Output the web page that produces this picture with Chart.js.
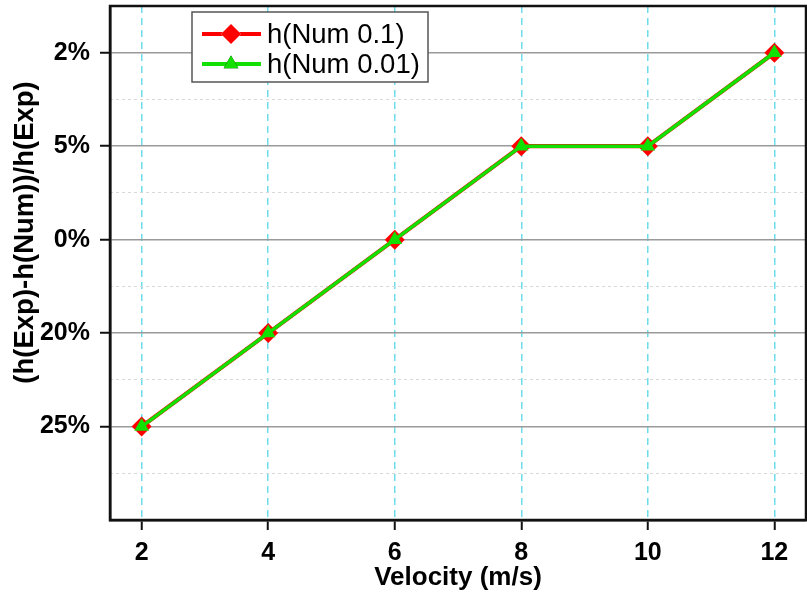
<!DOCTYPE html>
<html>
<head>
<meta charset="utf-8">
<title>Velocity error chart</title>
<script src="https://cdn.jsdelivr.net/npm/chart.js@4"></script>
<style>
    html, body { margin: 0; padding: 0; background: #fff; }
    canvas { display: block; }
</style>
</head>
<body>
<canvas id="errorChart" width="807" height="596"></canvas>
<script>
// Dane wykresu
const velocities = [2, 4, 6, 8, 10, 12];
const yLabels = ['2%', '5%', '0%', '20%', '25%'];   // od góry do dołu
const num01 = ['25%', '20%', '0%', '5%', '5%', '2%'];
const num001 = ['25%', '20%', '0%', '5%', '5%', '2%'];
const seriesNames = ['h(Num 0.1)', 'h(Num 0.01)'];

const FONT = '"Liberation Sans", Arial, sans-serif';
const RED = '#ff0000';
const GREEN = '#11e000';

function toPoints(values) {
    return velocities.map((v, i) => ({ x: v, y: yLabels.indexOf(values[i]) }));
}

// bez dodatkowych marginesów na etykiety skrajne
function noPadding(s) {
    s.paddingLeft = 0;
    s.paddingRight = 0;
    s.paddingTop = 0;
    s.paddingBottom = 0;
}

// Ramka wokół obszaru wykresu
const framePlugin = {
    id: 'frame',
    beforeDatasetsDraw(chart) {
        const { ctx, chartArea: a } = chart;
        ctx.save();
        ctx.strokeStyle = '#111';
        ctx.lineWidth = 2.5;
        ctx.strokeRect(a.left, a.top, a.right - a.left, a.bottom - a.top);
        ctx.restore();
    }
};

// Legenda w ramce z linią i znacznikiem
const legendPlugin = {
    id: 'boxLegend',
    afterDraw(chart) {
        const { ctx, chartArea: a } = chart;
        const left = a.left + 82, top = a.top + 6;
        const w = 236, h = 70;
        ctx.save();
        ctx.fillStyle = '#fff';
        ctx.fillRect(left, top, w, h);
        ctx.strokeStyle = '#555';
        ctx.lineWidth = 1.5;
        ctx.strokeRect(left, top, w, h);

        chart.data.datasets.forEach((ds, i) => {
            const cy = top + 22 + i * 30;
            ctx.strokeStyle = ds.borderColor;
            ctx.lineWidth = 4;
            ctx.beginPath();
            ctx.moveTo(left + 10, cy);
            ctx.lineTo(left + 69, cy);
            ctx.stroke();
            Chart.helpers.drawPoint(ctx, {
                pointStyle: ds.pointStyle,
                radius: ds.pointRadius,
                borderWidth: 0,
                rotation: 0
            }, left + 39, cy);
            ctx.fillStyle = ds.pointBackgroundColor;
            ctx.fill();
            ctx.fillStyle = '#000';
            ctx.font = '27.5px ' + FONT;
            ctx.textBaseline = 'middle';
            ctx.fillText(ds.label, left + 75, cy + 1);
        });
        ctx.restore();
    }
};

const ctx = document.getElementById('errorChart').getContext('2d');
const errorChart = new Chart(ctx, {
    type: 'line',
    data: {
        datasets: [{
            label: seriesNames[0],
            data: toPoints(num01),
            borderColor: RED,
            backgroundColor: RED,
            pointBackgroundColor: RED,
            pointBorderColor: RED,
            borderWidth: 4.2,
            pointStyle: 'rectRot',
            pointRadius: 10,
            pointBorderWidth: 0,
            order: 1
        }, {
            label: seriesNames[1],
            data: toPoints(num001),
            borderColor: GREEN,
            backgroundColor: GREEN,
            pointBackgroundColor: GREEN,
            pointBorderColor: GREEN,
            borderWidth: 3.5,
            pointStyle: 'triangle',
            pointRadius: 8.5,
            pointBorderWidth: 0,
            order: 0
        }]
    },
    options: {
        responsive: false,
        animation: false,
        layout: { autoPadding: false, padding: { left: 0, right: 1, top: 6, bottom: 0 } },
        plugins: {
            legend: { display: false },
            tooltip: { enabled: false }
        },
        scales: {
            x: {
                type: 'linear',
                min: 1.5,
                max: 12.5,
                afterBuildTicks: s => { s.ticks = velocities.map(v => ({ value: v })); },
                afterFit: s => { s.height = 76; noPadding(s); },
                grid: {
                    color: '#6fdcea',
                    lineWidth: 1.5,
                    tickColor: '#111',
                    tickWidth: 2,
                    tickLength: 10
                },
                border: { display: true, color: '#111', width: 2.5, dash: [7, 5] },
                ticks: {
                    color: '#000',
                    padding: 8,
                    font: { family: FONT, size: 25, weight: 'bold' }
                },
                title: {
                    display: true,
                    text: 'Velocity (m/s)',
                    color: '#000',
                    padding: { top: 0, bottom: 3 },
                    font: { family: FONT, size: 26, weight: 'bold', lineHeight: 1.2 }
                }
            },
            y: {
                type: 'linear',
                reverse: true,
                min: -0.5,
                max: 5,
                afterBuildTicks: s => { s.ticks = yLabels.map((_, i) => ({ value: i })); },
                afterFit: s => { s.width = 110; noPadding(s); },
                grid: {
                    color: '#9a9a9a',
                    lineWidth: 1.5,
                    tickColor: '#111',
                    tickWidth: 2,
                    tickLength: 10
                },
                border: { display: true, color: '#111', width: 2.5 },
                ticks: {
                    color: '#000',
                    padding: 10,
                    font: { family: FONT, size: 25, weight: 'bold' },
                    callback: v => yLabels[v]
                },
                title: {
                    display: true,
                    // spacje na początku przesuwają tytuł w górę jak w oryginale
                    text: '        (h(Exp)-h(Num))/h(Exp)',
                    color: '#000',
                    padding: { top: 9, bottom: 0 },
                    font: { family: FONT, size: 27.5, weight: 'bold', lineHeight: 1.2 }
                }
            },
            // pomocnicze linie kropkowane między etykietami
            yMinor: {
                type: 'linear',
                position: 'left',
                reverse: true,
                min: -0.5,
                max: 5,
                afterBuildTicks: s => { s.ticks = yLabels.map((_, i) => ({ value: i + 0.5 })); },
                afterFit: s => { s.width = 0; noPadding(s); },
                grid: { color: '#d8d8d8', lineWidth: 1, drawTicks: false },
                border: { display: false, dash: [3, 3] },
                ticks: { display: false }
            }
        }
    },
    plugins: [framePlugin, legendPlugin]
});
</script>
</body>
</html>
